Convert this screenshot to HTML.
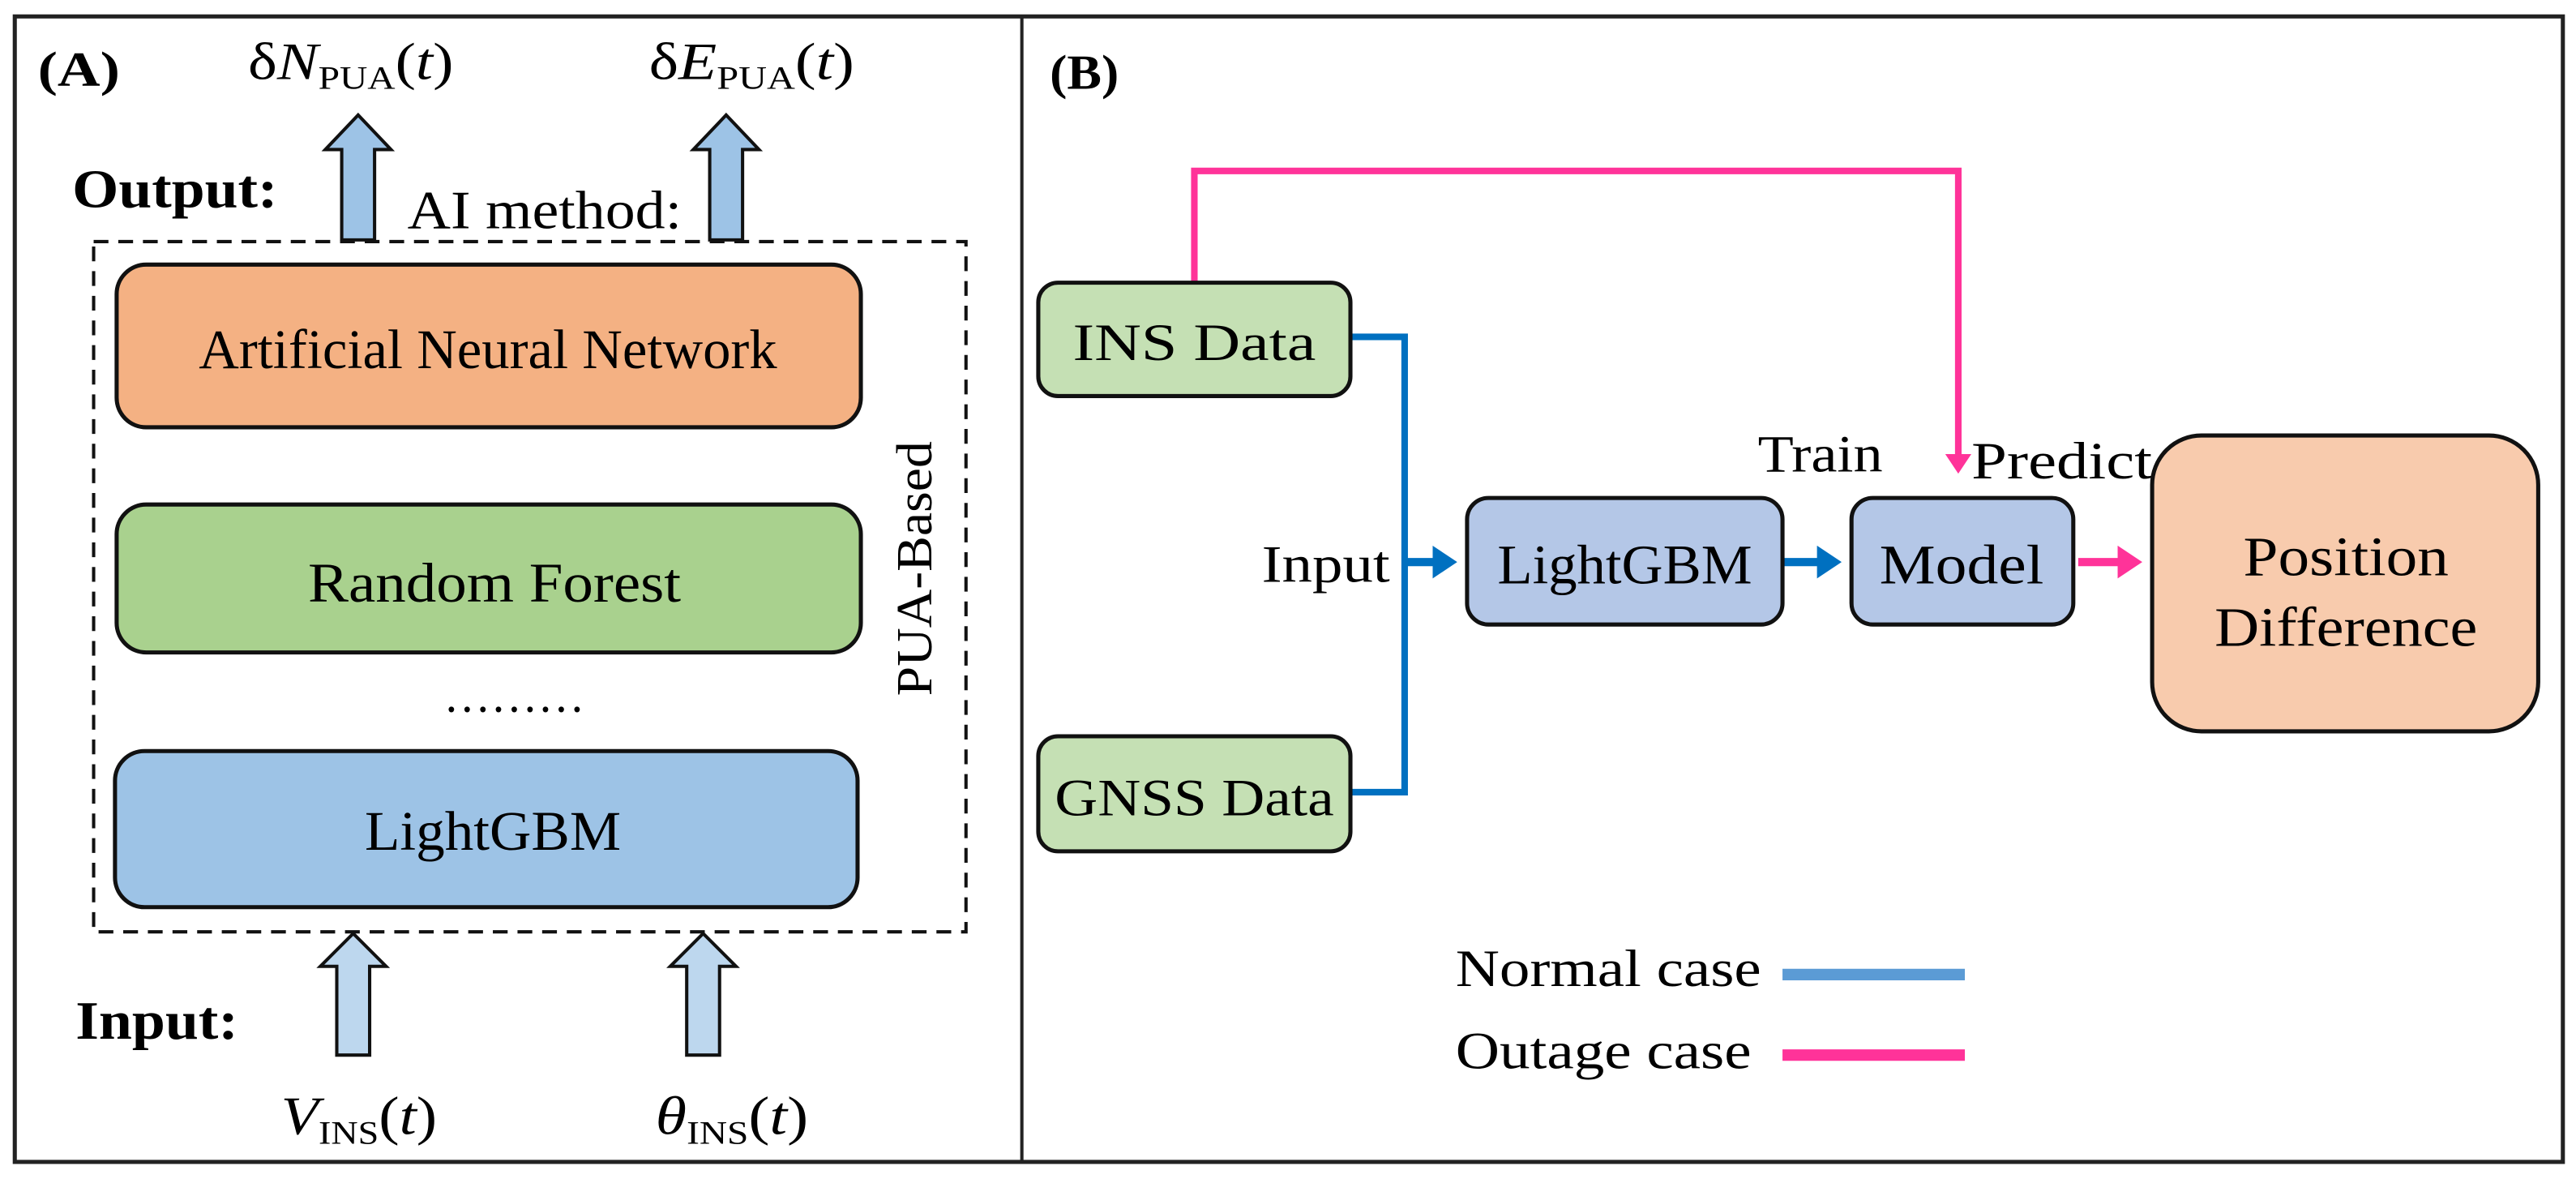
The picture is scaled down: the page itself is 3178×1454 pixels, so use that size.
<!DOCTYPE html>
<html><head><meta charset="utf-8"><style>
html,body{margin:0;padding:0;background:#fff;}
svg{display:block;}
text{font-family:"Liberation Serif","Times New Roman",serif;fill:#000;}
</style></head><body>
<svg width="3178" height="1454" viewBox="0 0 1568 717.4" preserveAspectRatio="none" xmlns="http://www.w3.org/2000/svg">
<defs>
<marker id="bh" markerWidth="4" markerHeight="4" refX="2.2" refY="2" orient="auto" markerUnits="strokeWidth"><path d="M0,0 L3,2 L0,4 z" fill="#0070C0"/></marker>
<marker id="ph" markerWidth="4" markerHeight="4" refX="2.2" refY="2" orient="auto" markerUnits="strokeWidth"><path d="M0,0 L3,2 L0,4 z" fill="#FF3399"/></marker>
</defs>
<rect x="9" y="10" width="1551" height="697" fill="#fff" stroke="#222" stroke-width="2.5"/>
<line x1="622" y1="10" x2="622" y2="707" stroke="#222" stroke-width="2"/>

<!-- Panel A -->
<text x="23" y="52" font-size="30" font-weight="bold" textLength="50" lengthAdjust="spacingAndGlyphs">(A)</text>
<text x="151" y="48" font-size="32" textLength="125" lengthAdjust="spacingAndGlyphs">δ<tspan font-style="italic">N</tspan><tspan font-size="20" dy="6">PUA</tspan><tspan dy="-6">(</tspan><tspan font-style="italic">t</tspan>)</text>
<text x="395" y="48" font-size="32" textLength="125" lengthAdjust="spacingAndGlyphs">δ<tspan font-style="italic">E</tspan><tspan font-size="20" dy="6">PUA</tspan><tspan dy="-6">(</tspan><tspan font-style="italic">t</tspan>)</text>
<text x="44" y="126" font-size="33" font-weight="bold" textLength="125" lengthAdjust="spacingAndGlyphs">Output:</text>
<text x="248" y="139" font-size="33" textLength="167" lengthAdjust="spacingAndGlyphs">AI method:</text>
<!-- output arrows -->
<path d="M208,146 L208,91 L198,91 L218,70 L238,91 L228,91 L228,146 Z" fill="#9DC3E6" stroke="#111" stroke-width="2"/>
<path d="M432,146 L432,91 L422,91 L442,70 L462,91 L452,91 L452,146 Z" fill="#9DC3E6" stroke="#111" stroke-width="2"/>
<rect x="57" y="147" width="531" height="420" fill="none" stroke="#111" stroke-width="2" stroke-dasharray="9,6"/>
<rect x="71" y="161" width="453" height="99" rx="18" fill="#F4B183" stroke="#111" stroke-width="2.5"/>
<text x="297" y="224" font-size="34" text-anchor="middle" textLength="352" lengthAdjust="spacingAndGlyphs">Artificial Neural Network</text>
<rect x="71" y="307" width="453" height="90" rx="18" fill="#A9D18E" stroke="#111" stroke-width="2.5"/>
<text x="301" y="366" font-size="34" text-anchor="middle" textLength="227" lengthAdjust="spacingAndGlyphs">Random Forest</text>
<text x="313" y="433" font-size="30" text-anchor="middle" textLength="86" lengthAdjust="spacingAndGlyphs">………</text>
<rect x="70" y="457" width="452" height="95" rx="18" fill="#9DC3E6" stroke="#111" stroke-width="2.5"/>
<text x="300" y="517" font-size="34" text-anchor="middle" textLength="156" lengthAdjust="spacingAndGlyphs">LightGBM</text>
<text transform="translate(567,346) rotate(-90)" font-size="31" text-anchor="middle" textLength="155" lengthAdjust="spacingAndGlyphs">PUA-Based</text>
<!-- input arrows -->
<path d="M205,642 L205,588 L195,588 L215,568 L235,588 L225,588 L225,642 Z" fill="#BDD7EE" stroke="#111" stroke-width="2"/>
<path d="M418,642 L418,588 L408,588 L428,568 L448,588 L438,588 L438,642 Z" fill="#BDD7EE" stroke="#111" stroke-width="2"/>
<text x="46" y="632" font-size="33" font-weight="bold" textLength="99" lengthAdjust="spacingAndGlyphs">Input:</text>
<text x="171" y="690" font-size="33" textLength="95" lengthAdjust="spacingAndGlyphs"><tspan font-style="italic">V</tspan><tspan font-size="20" dy="6">INS</tspan><tspan dy="-6">(</tspan><tspan font-style="italic">t</tspan>)</text>
<text x="399" y="690" font-size="33" textLength="93" lengthAdjust="spacingAndGlyphs"><tspan font-style="italic">θ</tspan><tspan font-size="20" dy="6">INS</tspan><tspan dy="-6">(</tspan><tspan font-style="italic">t</tspan>)</text>

<!-- Panel B -->
<text x="639" y="54" font-size="30" font-weight="bold" textLength="42" lengthAdjust="spacingAndGlyphs">(B)</text>
<polyline points="727,172 727,104 1192,104 1192,285" fill="none" stroke="#FF3399" stroke-width="4" marker-end="url(#ph)"/>
<polyline points="822,205 855,205 855,482 822,482" fill="none" stroke="#0070C0" stroke-width="4"/>
<line x1="855" y1="342" x2="883" y2="342" stroke="#0070C0" stroke-width="5" marker-end="url(#bh)"/>
<line x1="1085" y1="342" x2="1117" y2="342" stroke="#0070C0" stroke-width="5" marker-end="url(#bh)"/>
<line x1="1265" y1="342" x2="1300" y2="342" stroke="#FF3399" stroke-width="5" marker-end="url(#ph)"/>
<rect x="632" y="172" width="190" height="69" rx="12" fill="#C5E0B4" stroke="#111" stroke-width="2.5"/>
<text x="727" y="219" font-size="32" text-anchor="middle" textLength="148" lengthAdjust="spacingAndGlyphs">INS Data</text>
<rect x="632" y="448" width="190" height="70" rx="12" fill="#C5E0B4" stroke="#111" stroke-width="2.5"/>
<text x="727" y="496" font-size="32" text-anchor="middle" textLength="170" lengthAdjust="spacingAndGlyphs">GNSS Data</text>
<text x="768" y="354" font-size="32" textLength="78" lengthAdjust="spacingAndGlyphs">Input</text>
<rect x="893" y="303" width="192" height="77" rx="13" fill="#B4C7E7" stroke="#111" stroke-width="2.5"/>
<text x="989" y="355" font-size="34" text-anchor="middle" textLength="155" lengthAdjust="spacingAndGlyphs">LightGBM</text>
<rect x="1127" y="303" width="135" height="77" rx="13" fill="#B4C7E7" stroke="#111" stroke-width="2.5"/>
<text x="1194" y="355" font-size="34" text-anchor="middle" textLength="100" lengthAdjust="spacingAndGlyphs">Model</text>
<text x="1070" y="287" font-size="32" textLength="76" lengthAdjust="spacingAndGlyphs">Train</text>
<text x="1200" y="291" font-size="32" textLength="110" lengthAdjust="spacingAndGlyphs">Predict</text>
<rect x="1310" y="265" width="235" height="180" rx="30" fill="#F8CBAD" stroke="#111" stroke-width="2.5"/>
<text x="1428" y="350" font-size="34" text-anchor="middle" textLength="125" lengthAdjust="spacingAndGlyphs">Position</text>
<text x="1428" y="393" font-size="34" text-anchor="middle" textLength="160" lengthAdjust="spacingAndGlyphs">Difference</text>
<text x="886" y="600" font-size="32" textLength="186" lengthAdjust="spacingAndGlyphs">Normal case</text>
<line x1="1085" y1="593" x2="1196" y2="593" stroke="#5B9BD5" stroke-width="7"/>
<text x="886" y="650" font-size="32" textLength="180" lengthAdjust="spacingAndGlyphs">Outage case</text>
<line x1="1085" y1="642" x2="1196" y2="642" stroke="#FF3399" stroke-width="7"/>
</svg>
</body></html>
